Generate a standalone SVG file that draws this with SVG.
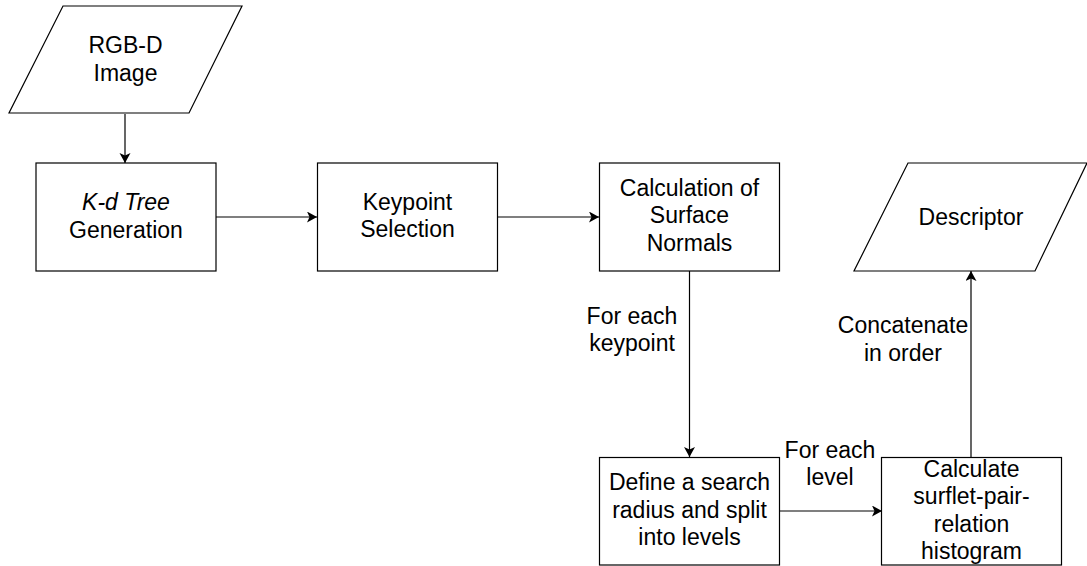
<svg xmlns="http://www.w3.org/2000/svg" width="1087" height="566" viewBox="0 0 1087 566">
<defs>
<style>
.s{fill:#fff;stroke:#000;stroke-width:1.2}
.t{font-family:"Liberation Sans",Arial,sans-serif;font-size:23px;fill:#000;text-anchor:middle}
.c{fill:none;stroke:#000;stroke-width:1.2}
</style>
<marker id="a" markerUnits="userSpaceOnUse" markerWidth="12" markerHeight="12" refX="10" refY="5.5" orient="auto">
<path d="M0,0 L10,5.5 L0,11 L2.5,5.5 z" fill="#000"/>
</marker>
</defs>
<rect width="1087" height="566" fill="#fff"/>
<g id="connectors">
<line class="c" x1="125" y1="114" x2="125" y2="163" marker-end="url(#a)"/>
<line class="c" x1="216" y1="217" x2="317" y2="217" marker-end="url(#a)"/>
<line class="c" x1="498" y1="217" x2="599" y2="217" marker-end="url(#a)"/>
<line class="c" x1="689.5" y1="271" x2="689.5" y2="457" marker-end="url(#a)"/>
<line class="c" x1="779" y1="511" x2="882" y2="511" marker-end="url(#a)"/>
<line class="c" x1="971" y1="457" x2="971" y2="271" marker-end="url(#a)"/>
<text class="t" x="632" y="324">For each</text>
<text class="t" x="632" y="351">keypoint</text>
<text class="t" x="830" y="458">For each</text>
<text class="t" x="830" y="485">level</text>
<text class="t" x="903" y="333">Concatenate</text>
<text class="t" x="903" y="361">in order</text>
</g>
<g id="rgbd">
<polygon class="s" points="63,6 242,6 189,113 9,113"/>
<text class="t" x="125.5" y="53">RGB-D</text>
<text class="t" x="125.5" y="81">Image</text>
</g>
<g id="kdtree">
<rect class="s" x="36" y="163" width="180" height="108"/>
<text class="t" x="126" y="210"><tspan font-style="italic">K-d Tree</tspan></text>
<text class="t" x="126" y="238">Generation</text>
</g>
<g id="keypoint">
<rect class="s" x="317.5" y="163" width="180" height="108"/>
<text class="t" x="407.5" y="210">Keypoint</text>
<text class="t" x="407.5" y="237">Selection</text>
</g>
<g id="normals">
<rect class="s" x="599.5" y="163" width="180" height="108"/>
<text class="t" x="689.5" y="196">Calculation of</text>
<text class="t" x="689.5" y="223">Surface</text>
<text class="t" x="689.5" y="251">Normals</text>
</g>
<g id="descriptor">
<polygon class="s" points="908,163 1087,163 1035,271 854,271"/>
<text class="t" x="971" y="225">Descriptor</text>
</g>
<g id="define">
<rect class="s" x="599.5" y="457.5" width="180" height="107.5"/>
<text class="t" x="689.5" y="490">Define a search</text>
<text class="t" x="689.5" y="518">radius and split</text>
<text class="t" x="689.5" y="545">into levels</text>
</g>
<g id="histogram">
<rect class="s" x="881.5" y="457.5" width="180" height="107.5"/>
<text class="t" x="971.5" y="477">Calculate</text>
<text class="t" x="971.5" y="504">surflet-pair-</text>
<text class="t" x="971.5" y="532">relation</text>
<text class="t" x="971.5" y="559">histogram</text>
</g>
</svg>
